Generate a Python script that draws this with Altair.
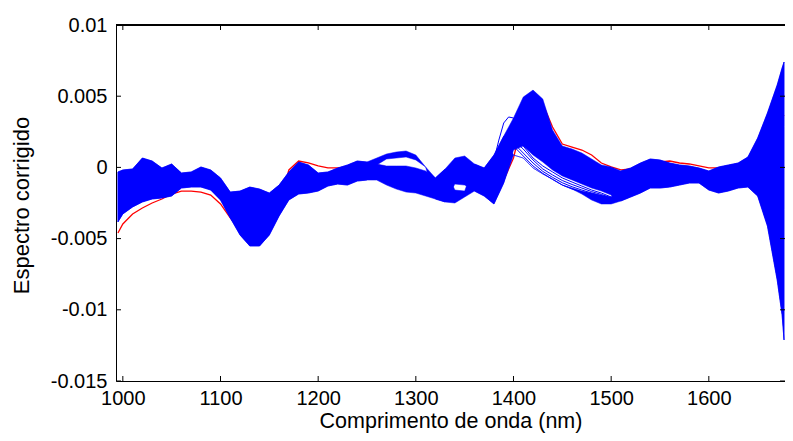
import altair as alt
import pandas as pd

FONT = "Liberation Sans"
W, H = 669, 356

# wavelength grid (nm)
wavelength = [995, 1000, 1010, 1020, 1030, 1040, 1050, 1060, 1070, 1080, 1090,
              1100, 1110, 1120, 1130, 1140, 1150, 1160, 1170, 1180, 1190,
              1200, 1210, 1220, 1230, 1240, 1250, 1260, 1270, 1280, 1290,
              1300, 1310, 1320, 1330, 1340, 1350, 1360, 1370, 1380, 1390,
              1400, 1410, 1420, 1430, 1440, 1450, 1460, 1470, 1480, 1490,
              1500, 1510, 1520, 1530, 1540, 1550, 1560, 1570, 1580, 1590,
              1600, 1610, 1620, 1630, 1640, 1650, 1660, 1670, 1675, 1677]

# upper envelope of the blue spectra
upper = [-0.00032, -0.00018, -0.00011, 0.00066, 0.00045, -0.00004, 0.00024, -0.00039, -0.00032, 0.00003, -0.00018,
         -0.00074, -0.00173, -0.00166, -0.00138, -0.00152, -0.00180, -0.00124, -0.00032, 0.00038, 0.00017,
         -0.00039, -0.00032, -0.00004, 0.00017, 0.00045, 0.00038, 0.00066, 0.00094, 0.00108, 0.00115,
         0.00087, 0.00003, -0.00074, -0.00011, 0.00066, 0.00080, 0.00024, -0.00004, 0.00087, 0.00220,
         0.00347, 0.00494, 0.00543, 0.00480, 0.00263, 0.00150, 0.00129, 0.00101, 0.00059, 0.00017,
         0.00003, -0.00025, -0.00004, 0.00031, 0.00059, 0.00052, 0.00031, 0.00017, 0.00010, -0.00004,
         -0.00025, 0.00003, 0.00017, 0.00031, 0.00073, 0.00206, 0.00382, 0.00579, 0.00698, 0.00740]

# lower edge of the upper group of blue spectra
lower_a = [-0.00383, -0.00327, -0.00278, -0.00243, -0.00222, -0.00215, -0.00201, -0.00145, -0.00138, -0.00138, -0.00159,
           -0.00229, -0.00355, -0.00475, -0.00552, -0.00552, -0.00475, -0.00341, -0.00229, -0.00187, -0.00180,
           -0.00166, -0.00131, -0.00117, -0.00124, -0.00096, -0.00089, 0.00017, 0.00059, 0.00066, 0.00073,
           0.00052, 0.00003, -0.00222, -0.00243, -0.00117, -0.00124, -0.00166, -0.00201, -0.00257, -0.00110,
           0.00122, 0.00150, 0.00087, 0.00038, -0.00018, -0.00060, -0.00088, -0.00117, -0.00145, -0.00166,
           -0.00194, -0.00236, -0.00208, -0.00180, -0.00145, -0.00145, -0.00138, -0.00124, -0.00110, -0.00110,
           -0.00159, -0.00180, -0.00166, -0.00145, -0.00138, -0.00201, -0.00412, -0.00791, -0.01036, -0.01212]

# upper edge of the lower group of blue spectra
upper_b = [-0.00032, -0.00018, -0.00011, 0.00066, 0.00045, -0.00004, 0.00024, -0.00039, -0.00032, 0.00003, -0.00018,
           -0.00074, -0.00173, -0.00166, -0.00138, -0.00152, -0.00180, -0.00124, -0.00032, 0.00038, 0.00017,
           -0.00039, -0.00032, -0.00004, 0.00017, 0.00045, 0.00038, 0.00024, 0.00010, 0.00010, 0.00010,
           -0.00004, -0.00025, -0.00074, -0.00011, -0.00159, -0.00166, 0.00024, -0.00004, 0.00087, 0.00220,
           0.00087, 0.00066, -0.00004, -0.00046, -0.00082, -0.00124, -0.00145, -0.00166, -0.00180, -0.00194,
           -0.00208, -0.00025, -0.00004, 0.00031, 0.00059, 0.00052, 0.00031, 0.00017, 0.00010, -0.00004,
           -0.00025, 0.00003, 0.00017, 0.00031, 0.00073, 0.00206, 0.00382, 0.00579, 0.00698, 0.00740]

# lower envelope of the blue spectra
lower = [-0.00383, -0.00327, -0.00278, -0.00243, -0.00222, -0.00215, -0.00201, -0.00145, -0.00138, -0.00138, -0.00159,
         -0.00229, -0.00355, -0.00475, -0.00552, -0.00552, -0.00475, -0.00341, -0.00229, -0.00187, -0.00180,
         -0.00166, -0.00131, -0.00117, -0.00124, -0.00096, -0.00089, -0.00089, -0.00124, -0.00152, -0.00173,
         -0.00180, -0.00201, -0.00222, -0.00243, -0.00250, -0.00208, -0.00166, -0.00201, -0.00257, -0.00110,
         0.00087, 0.00066, -0.00004, -0.00046, -0.00082, -0.00124, -0.00152, -0.00187, -0.00229, -0.00257,
         -0.00257, -0.00236, -0.00208, -0.00180, -0.00145, -0.00145, -0.00138, -0.00124, -0.00110, -0.00110,
         -0.00159, -0.00180, -0.00166, -0.00145, -0.00138, -0.00201, -0.00412, -0.00791, -0.01036, -0.01212]

# red spectrum
red = [-0.00461, -0.00397, -0.00327, -0.00285, -0.00250, -0.00222, -0.00187, -0.00166, -0.00166, -0.00173, -0.00194,
       -0.00257, -0.00355, -0.00440, -0.00510, -0.00510, -0.00426, -0.00264, -0.00018, 0.00045, 0.00031,
       0.00010, -0.00004, -0.00004, 0.00003, 0.00010, 0.00017, 0.00017, 0.00003, -0.00004, -0.00018,
       -0.00039, -0.00074, -0.00117, -0.00131, -0.00110, -0.00110, -0.00131, -0.00173, -0.00187, -0.00089,
       0.00066, 0.00347, 0.00487, 0.00445, 0.00284, 0.00164, 0.00143, 0.00122, 0.00087, 0.00031,
       0.00003, -0.00018, -0.00011, 0.00010, 0.00038, 0.00038, 0.00045, 0.00031, 0.00024, 0.00010,
       -0.00004, -0.00004, 0.00010, 0.00024, 0.00052, 0.00122, 0.00192, 0.00298, 0.00347, 0.00368]

# individual blue spectra that separate from the mass after the 1400 nm peak
line1_wl = [1380, 1385, 1390, 1395, 1400, 1405, 1410, 1420, 1430, 1440, 1450, 1460, 1470, 1480, 1490, 1500]
line1 = [0.00052, 0.00192, 0.00312, 0.00354, 0.00347, 0.00263, 0.00150, 0.00066, 0.00010, -0.00032,
         -0.00074, -0.00103, -0.00131, -0.00159, -0.00180, -0.00208]
fan_wl = [1400, 1410, 1420, 1430, 1440, 1450, 1460, 1470, 1480, 1490, 1500]
line2 = [0.00192, 0.00129, 0.00052, -0.00011, -0.00053, -0.00092, -0.00120, -0.00145, -0.00170, -0.00190, -0.00215]
line3 = [0.00171, 0.00101, 0.00031, -0.00028, -0.00070, -0.00108, -0.00136, -0.00159, -0.00180, -0.00201, -0.00222]
line4 = [0.00150, 0.00080, 0.00010, -0.00042, -0.00085, -0.00124, -0.00152, -0.00173, -0.00201, -0.00222, -0.00236]

x_ticks = [1000, 1100, 1200, 1300, 1400, 1500, 1600]
y_ticks = [-0.015, -0.01, -0.005, 0, 0.005, 0.01]

band = pd.DataFrame({"wl": wavelength, "upper": upper, "lower_a": lower_a,
                     "upper_b": upper_b, "lower": lower, "red": red})
lines = pd.concat([
    pd.DataFrame({"wl": line1_wl, "v": line1, "s": "l1"}),
    pd.DataFrame({"wl": fan_wl, "v": line2, "s": "l2"}),
    pd.DataFrame({"wl": fan_wl, "v": line3, "s": "l3"}),
    pd.DataFrame({"wl": fan_wl, "v": line4, "s": "l4"}),
])
xt = pd.DataFrame({"t": x_ticks})
yt = pd.DataFrame({"t": y_ticks})

xs = alt.Scale(domain=[993, 1678], nice=False, zero=False)
ys = alt.Scale(domain=[-0.015, 0.01], nice=False, zero=False)
XT = "Comprimento de onda (nm)"
YT = "Espectro corrigido"

x_axis = alt.Axis(values=x_ticks, format="d", ticks=False, grid=False,
                  domain=True, domainColor="black", domainWidth=1,
                  labelFont=FONT, labelFontSize=20, labelColor="black",
                  labelPadding=7, labelFlush=False,
                  titleFont=FONT, titleFontSize=21.5, titleFontWeight="normal",
                  titleColor="black", titleY=29, titleBaseline="top")
y_axis = alt.Axis(values=y_ticks, labelExpr="'' + round(datum.value*1000)/1000",
                  ticks=False, grid=False,
                  domain=True, domainColor="black", domainWidth=1,
                  labelFont=FONT, labelFontSize=20, labelColor="black",
                  labelPadding=9, labelFlush=False,
                  titleFont=FONT, titleFontSize=22, titleFontWeight="normal",
                  titleColor="black", titleX=-83, titleY=180, titleBaseline="bottom")


def X(field):
    return alt.X(field, type="quantitative", scale=xs, axis=x_axis, title=XT)


def Y(field):
    return alt.Y(field, type="quantitative", scale=ys, axis=y_axis, title=YT)


BLUE = "#0000ff"

red_line = alt.Chart(band).mark_line(color="#ff0000", strokeWidth=1.3).encode(
    x=X("wl"), y=Y("red"))
area_a = alt.Chart(band).mark_area(color=BLUE, opacity=1, stroke=BLUE, strokeWidth=0.5).encode(
    x=X("wl"), y=Y("upper"), y2=alt.Y2("lower_a"))
area_b = alt.Chart(band).mark_area(color=BLUE, opacity=1, stroke=BLUE, strokeWidth=0.5).encode(
    x=X("wl"), y=Y("upper_b"), y2=alt.Y2("lower"))
blue_lines = alt.Chart(lines).mark_line(color=BLUE, strokeWidth=1).encode(
    x=X("wl"), y=Y("v"), detail="s:N")

tick_bottom = alt.Chart(xt).mark_rule(color="black", strokeWidth=1).encode(
    x=X("t"), y=alt.value(H), y2=alt.value(H - 5))
tick_top = alt.Chart(xt).mark_rule(color="black", strokeWidth=1).encode(
    x=X("t"), y=alt.value(0), y2=alt.value(5))
tick_left = alt.Chart(yt).mark_rule(color="black", strokeWidth=1).encode(
    y=Y("t"), x=alt.value(0), x2=alt.value(5))
tick_right = alt.Chart(yt).mark_rule(color="black", strokeWidth=1).encode(
    y=Y("t"), x=alt.value(W), x2=alt.value(W - 5))
top_border = alt.Chart(xt).mark_rule(color="black", strokeWidth=1).encode(
    x=alt.value(0), x2=alt.value(W), y=alt.value(0))

chart = alt.layer(
    red_line, area_a, area_b, blue_lines,
    tick_bottom, tick_top, tick_left, tick_right, top_border
).properties(
    width=W, height=H,
    padding={"left": 108, "top": 17, "right": 0, "bottom": 52},
    autosize=alt.AutoSizeParams(type="none"),
    background="white",
).configure_view(stroke=None)

chart.save("out.html", embed_options={"renderer": "svg", "actions": False})
